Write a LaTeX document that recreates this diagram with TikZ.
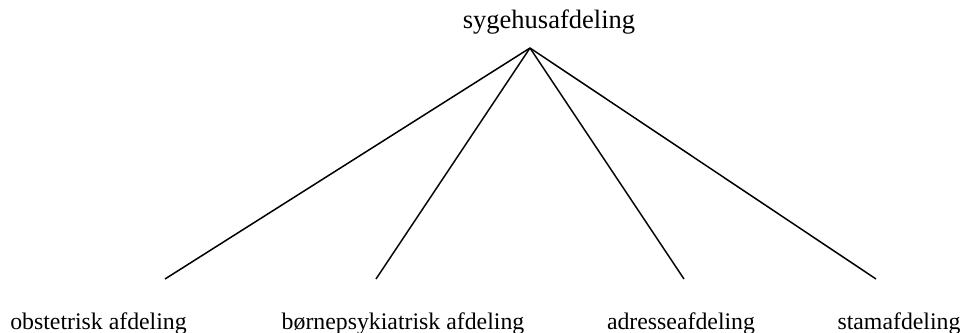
\documentclass[tikz,border=0pt]{standalone}
\usepackage{fontspec}
\setmainfont{Liberation Serif}
\begin{document}
\begin{tikzpicture}[x=1pt,y=-1pt,
  branch/.style={line width=1.5pt},
  rootlabel/.style={inner sep=0pt,anchor=base,font=\fontsize{26.5pt}{30pt}\selectfont},
  leaflabel/.style={inner sep=0pt,anchor=base,font=\fontsize{23.8pt}{28pt}\selectfont}]
  \useasboundingbox (0,0) rectangle (963,332);
  % tree root and its label
  \node[rootlabel] (top) at (549,28) {sygehusafdeling};
  \coordinate (root) at (530,48);
  % leaf ends of the branches
  \coordinate (e1) at (165,279);
  \coordinate (e2) at (376,279);
  \coordinate (e3) at (684,279);
  \coordinate (e4) at (876,279);
  % leaf labels
  \node[leaflabel] (l1) at (98.5,329.5) {obstetrisk afdeling};
  \node[leaflabel] (l2) at (403,329.5) {børnepsykiatrisk afdeling};
  \node[leaflabel] (l3) at (681,329.5) {adresseafdeling};
  \node[leaflabel] (l4) at (899,329.5) {stamafdeling};
  % branches
  \foreach \e in {e1,e2,e3,e4}
    \draw[branch] (root) -- (\e);
\end{tikzpicture}
\end{document}
